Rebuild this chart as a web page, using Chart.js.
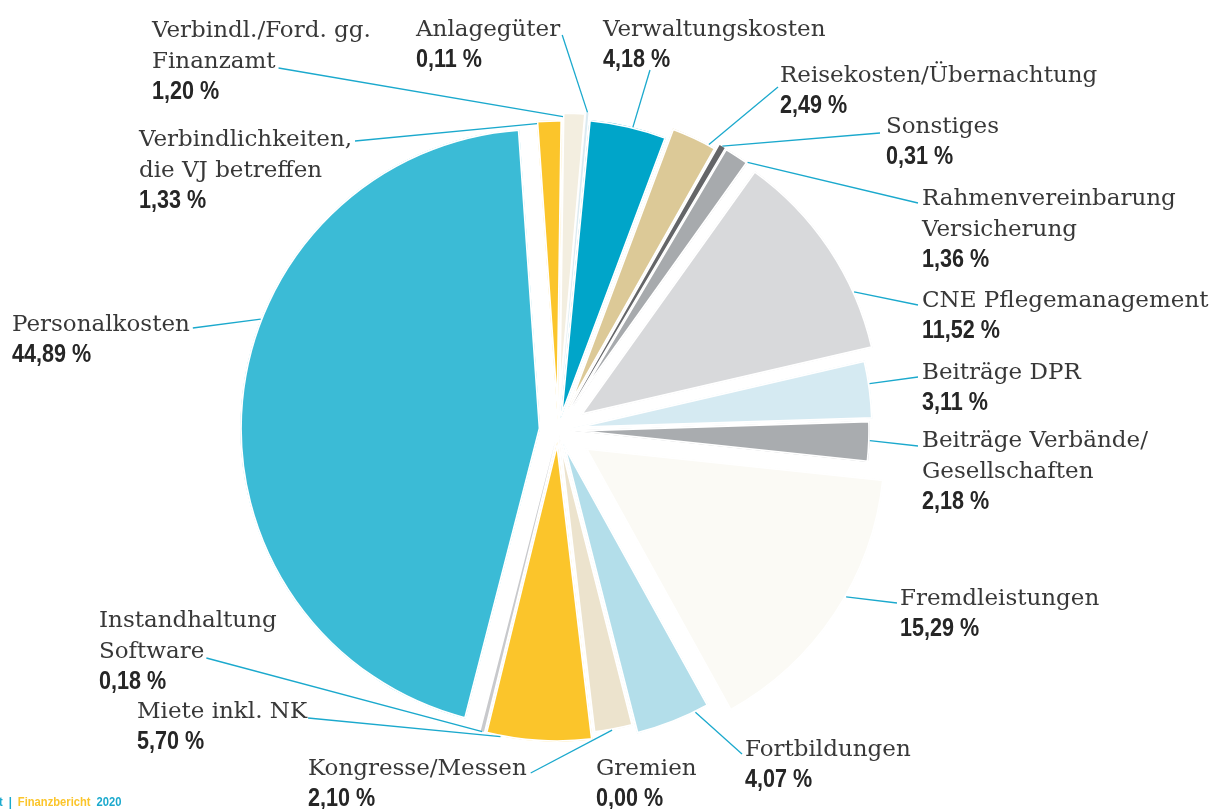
<!DOCTYPE html>
<html><head><meta charset="utf-8">
<script src="https://cdn.jsdelivr.net/npm/chart.js@4/dist/chart.umd.min.js"></script>
<style>html,body{margin:0;padding:0;background:#fff;overflow:hidden}canvas{display:block}</style>
</head><body>
<canvas id="c" width="1230" height="809"></canvas>
<script>
// ---- data ----
const categories = [
  'Verbindlichkeiten,\ndie VJ betreffen',
  'Verbindl./Ford. gg.\nFinanzamt',
  'Anlagegüter',
  'Verwaltungskosten',
  'Reisekosten/Übernachtung',
  'Sonstiges',
  'Rahmenvereinbarung\nVersicherung',
  'CNE Pflegemanagement',
  'Beiträge DPR',
  'Beiträge Verbände/\nGesellschaften',
  'Fremdleistungen',
  'Fortbildungen',
  'Gremien',
  'Kongresse/Messen',
  'Miete inkl. NK',
  'Instandhaltung\nSoftware',
  'Personalkosten'
];
const shares = [1.33, 1.20, 0.11, 4.18, 2.49, 0.31, 1.36, 11.52, 3.11, 2.18, 15.29, 4.07, 0.00, 2.10, 5.70, 0.18, 44.89];
const footerParts = ['t', '|', 'Finanzbericht', '2020'];

// ---- styles ----
const sliceColors = ['#fbc52b','#f3eee0','#dbeaf1','#00a5c9','#dcc997','#646568','#a7aaad','#d8d9db',
  '#d5eaf2','#a9acaf','#fbfaf5','#b3deea','#ece3cd','#ece3cd','#fbc52b','#c8c9cc','#3bbbd6'];
const explode = [10, 18, 19, 12, 23, 28, 28, 27, 15, 12, 33, 14, 0, 5, 12, 11, 18];
const borderWidths = [1.5, 1.5, 0, 1.5, 1.5, 0, 1.5, 1.5, 1.5, 1.5, 1.5, 1.5, 0, 1.5, 1.5, 0, 1.5];
const labelLayout = [
  {x:139, y:146, a:{line:0, at:'end', dx:3, dy:-5}, t:0, r:0.99},
  {x:152, y:37,  a:{line:1, at:'end', dx:3, dy:0}, t:0, r:0.985},
  {x:416, y:36,  a:{line:0, at:'end', dx:2, dy:-1}, t:0.5, r:1},
  {x:603, y:36,  a:{line:1, at:'start', dx:47, dy:3}, t:0.56, r:1},
  {x:780, y:82,  a:{line:0, at:'start', dx:-2, dy:5}, t:0.84, r:1},
  {x:886, y:133, a:{line:0, at:'start', dx:-6, dy:0}, t:0.5, r:1},
  {x:922, y:205, a:{line:0, at:'start', dx:-4, dy:-2}, t:1, r:1},
  {x:922, y:307, a:{line:0, at:'start', dx:-4, dy:-2}, t:0.73, r:1},
  {x:922, y:379, a:{line:0, at:'start', dx:-4, dy:-2}, t:0.4, r:1},
  {x:922, y:447, a:{line:0, at:'start', dx:-4, dy:-1}, t:0.48, r:1},
  {x:900, y:605, a:{line:0, at:'start', dx:-3, dy:-2}, t:0.43, r:1},
  {x:745, y:756, a:{line:0, at:'start', dx:-3, dy:-2}, t:0.19, r:1},
  {x:596, y:775, a:null},
  {x:308, y:775, a:{line:0, at:'end', dx:4, dy:-2}, t:0.54, r:1},
  {x:137, y:718, a:{line:0, at:'end', dx:1, dy:0}, t:0.86, r:1},
  {x:99,  y:627, a:{line:1, at:'end', dx:2, dy:0}, t:0.5, r:1},
  {x:12,  y:331, a:{line:0, at:'end', dx:3, dy:-3}, t:0.6, r:1}
];
const NAME_FONT = "23px 'DejaVu Serif', serif";
const VALUE_FONT = "bold 26px 'Liberation Sans', Arial, sans-serif";
const VALUE_SX = 0.83;
const LINE_H = 31;
const LEADER = '#1ba9cd';

const fmt = v => v.toFixed(2).replace('.', ',') + ' %';

function drawText(ctx, text, x, y, font, color, sx) {
  ctx.save();
  ctx.font = font; ctx.fillStyle = color;
  ctx.translate(x, y); ctx.scale(sx, 1);
  ctx.fillText(text, 0, 0);
  ctx.restore();
}

const explodePlugin = {
  id: 'explode',
  beforeDatasetDraw(chart, args) {
    const ctx = chart.ctx;
    args.meta.data.forEach((arc, i) => {
      const d = explode[i] || 0;
      const mid = (arc.startAngle + arc.endAngle) / 2;
      ctx.save();
      ctx.translate(Math.cos(mid) * d, Math.sin(mid) * d);
      arc.draw(ctx);
      ctx.restore();
    });
    return false;
  }
};

const labelPlugin = {
  id: 'labels',
  afterDraw(chart) {
    const ctx = chart.ctx;
    const arcs = chart.getDatasetMeta(0).data;
    ctx.save();
    ctx.textBaseline = 'alphabetic';
    ctx.textAlign = 'left';
    categories.forEach((name, i) => {
      const L = labelLayout[i];
      const lines = name.split('\n').map(s => ({text: s, font: NAME_FONT, color: '#383838', sx: 1}));
      lines.push({text: fmt(shares[i]), font: VALUE_FONT, color: '#262626', sx: VALUE_SX});
      lines.forEach((ln, k) => drawText(ctx, ln.text, L.x, L.y + k * LINE_H, ln.font, ln.color, ln.sx));
      if (L.a) {
        const ln = lines[L.a.line];
        ctx.font = ln.font;
        const w = ctx.measureText(ln.text).width * ln.sx;
        const sx = (L.a.at === 'end' ? L.x + w : L.x) + L.a.dx;
        const sy = L.y + L.a.line * LINE_H + L.a.dy;
        const arc = arcs[i];
        const d = explode[i] || 0;
        const mid = (arc.startAngle + arc.endAngle) / 2;
        const ang = arc.startAngle + L.t * (arc.endAngle - arc.startAngle);
        const ax = arc.x + Math.cos(mid) * d + Math.cos(ang) * arc.outerRadius * L.r;
        const ay = arc.y + Math.sin(mid) * d + Math.sin(ang) * arc.outerRadius * L.r;
        ctx.strokeStyle = LEADER; ctx.lineWidth = 1.3;
        ctx.beginPath(); ctx.moveTo(sx, sy); ctx.lineTo(ax, ay); ctx.stroke();
      }
    });
    // footer
    const ffont = "bold 13px 'Liberation Sans', Arial, sans-serif";
    const fcol = ['#1ba9cd', '#1ba9cd', '#fbc52b', '#1ba9cd'];
    const fsx = 0.86;
    let fx = -1;
    footerParts.forEach((p, k) => {
      drawText(ctx, p, fx, 806, ffont, fcol[k], fsx);
      ctx.font = ffont;
      fx += ctx.measureText(p).width * fsx + 6;
    });
    ctx.restore();
  }
};

new Chart(document.getElementById('c'), {
  type: 'pie',
  data: {
    labels: categories.map(s => s.replace('\n', ' ')),
    datasets: [{
      data: shares,
      backgroundColor: sliceColors,
      borderColor: '#ffffff',
      borderWidth: borderWidths,
      borderAlign: 'inner',
      offset: 0,
      hoverOffset: 0
    }]
  },
  options: {
    responsive: false,
    devicePixelRatio: 1,
    animation: false,
    events: [],
    rotation: -4,
    radius: 300,
    layout: {padding: {left: 0, right: 114, top: 51, bottom: 0}},
    plugins: {legend: {display: false}, tooltip: {enabled: false}}
  },
  plugins: [explodePlugin, labelPlugin]
});
</script>
</body></html>
